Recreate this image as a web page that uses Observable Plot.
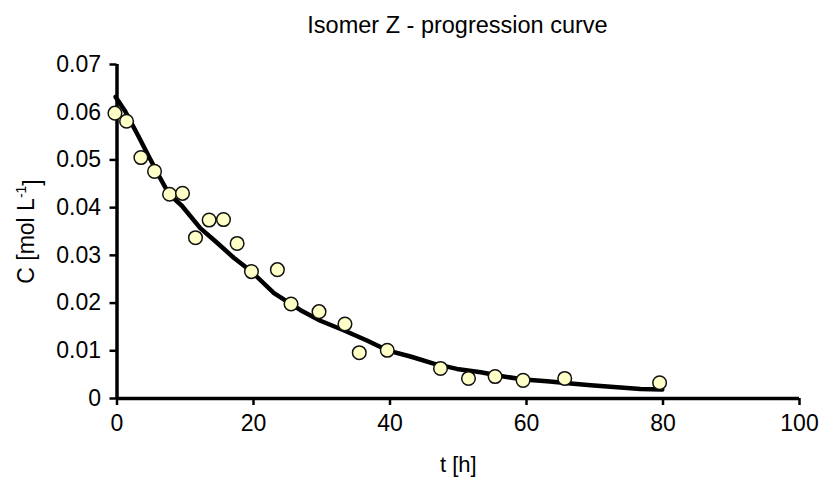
<!DOCTYPE html>
<html>
<head>
<meta charset="utf-8">
<script src="https://cdn.jsdelivr.net/npm/d3@7"></script>
<script src="https://cdn.jsdelivr.net/npm/@observablehq/plot@0.6"></script>
<style>
  html, body { margin: 0; padding: 0; background: #fff; }
  #title { box-sizing: border-box; width: 820px; height: 46px; padding: 5px 21px 0 116px; line-height: 41px;
           text-align: center; font-family: "Liberation Sans", Arial, sans-serif; font-size: 23.5px; color: #000; white-space: pre; }
</style>
</head>
<body>
<div id="title"></div>
<div id="chart"></div>
<script>
const titleText = "Isomer Z - progression curve";
const xLabel = "t [h]";
const yLabelMain = "C [mol L";
const yLabelSup = "-1";
const yLabelEnd = "]";
const xTicks = [0, 20, 40, 60, 80, 100];
const yTicks = [0, 0.01, 0.02, 0.03, 0.04, 0.05, 0.06, 0.07];

// measured points
const tObs = [-0.3, 1.4, 3.5, 5.5, 7.7, 9.6, 11.5, 13.5, 15.6, 17.6, 19.7, 23.5, 25.5, 29.6, 33.4, 35.5, 39.6, 47.4, 51.5, 55.4, 59.5, 65.6, 79.5];
const cObs = [0.0598, 0.0581, 0.0505, 0.0476, 0.0428, 0.0430, 0.0337, 0.0374, 0.0375, 0.0325, 0.0266, 0.0270, 0.0198, 0.0182, 0.0156, 0.0096, 0.0101, 0.0063, 0.0042, 0.0046, 0.0038, 0.0042, 0.0033];

// fitted progression curve
const tFit = [-0.2, 1.2, 3.2, 4.7, 6.4, 7.6, 9.5, 12.2, 14.7, 17.1, 19.7, 23.0, 26.9, 29.8, 33.2, 36.7, 39.6, 43.0, 46.4, 49.8, 53.3, 56.2, 59.6, 63.0, 66.9, 69.4, 72.8, 76.7, 79.9];
const cFit = [0.0632, 0.0602, 0.0548, 0.0506, 0.0460, 0.0429, 0.0404, 0.0357, 0.0326, 0.0295, 0.0266, 0.0221, 0.0185, 0.0163, 0.0143, 0.0121, 0.0101, 0.0088, 0.0073, 0.0062, 0.0055, 0.0047, 0.0040, 0.0036, 0.0031, 0.0028, 0.0024, 0.0020, 0.0019];

const obs = tObs.map((t, i) => ({t, c: cObs[i]}));
const fit = tFit.map((t, i) => ({t, c: cFit[i]}));

document.getElementById("title").textContent = titleText;

const chart = Plot.plot({
  width: 820,
  height: 431,
  marginLeft: 116.5,
  marginRight: 21,
  marginTop: 18,
  marginBottom: 79,
  style: {fontFamily: "'Liberation Sans', Arial, sans-serif", background: "#fff", color: "#000", overflow: "visible"},
  x: {domain: [0, 100]},
  y: {domain: [0, 0.07]},
  marks: [
    Plot.axisX({ticks: xTicks, tickFormat: d => String(d), tickSize: 7, tickPadding: 9, fontSize: 23, label: null, strokeWidth: 2.5}),
    Plot.axisY({ticks: yTicks, tickFormat: d => d === 0 ? "0" : d.toFixed(2), tickSize: 7, tickPadding: 9, fontSize: 23, label: null, strokeWidth: 2.5}),
    Plot.ruleY([0], {x1: 0, x2: 100, strokeWidth: 3.5, stroke: "#000"}),
    Plot.ruleX([0], {y1: 0, y2: 0.07, strokeWidth: 3.5, stroke: "#000"}),
    Plot.line(fit, {x: "t", y: "c", stroke: "#000", strokeWidth: 4.5, curve: "linear"}),
    Plot.dot(obs, {x: "t", y: "c", r: 6.8, fill: "#ffffc8", stroke: "#111", strokeWidth: 1.5}),
    Plot.text([yLabelMain], {text: d => d, frameAnchor: "left", textAnchor: "middle", lineAnchor: "middle", dx: -90, rotate: -90, fontSize: 23, fill: "#000", className: "ylab"}),
    Plot.text([xLabel], {text: d => d, frameAnchor: "bottom", textAnchor: "middle", lineAnchor: "middle", dy: 66, fontSize: 22, fill: "#000"})
  ]
});
// add superscript to the y label
d3.select(chart).selectAll(".ylab text").each(function() {
  const t = d3.select(this);
  t.text(yLabelMain);
  t.append("tspan").attr("font-size", 14).attr("dy", "-0.6em").text(yLabelSup);
  t.append("tspan").attr("dy", "0.6em").text(yLabelEnd);
});
document.getElementById("chart").appendChild(chart);
</script>
</body>
</html>
